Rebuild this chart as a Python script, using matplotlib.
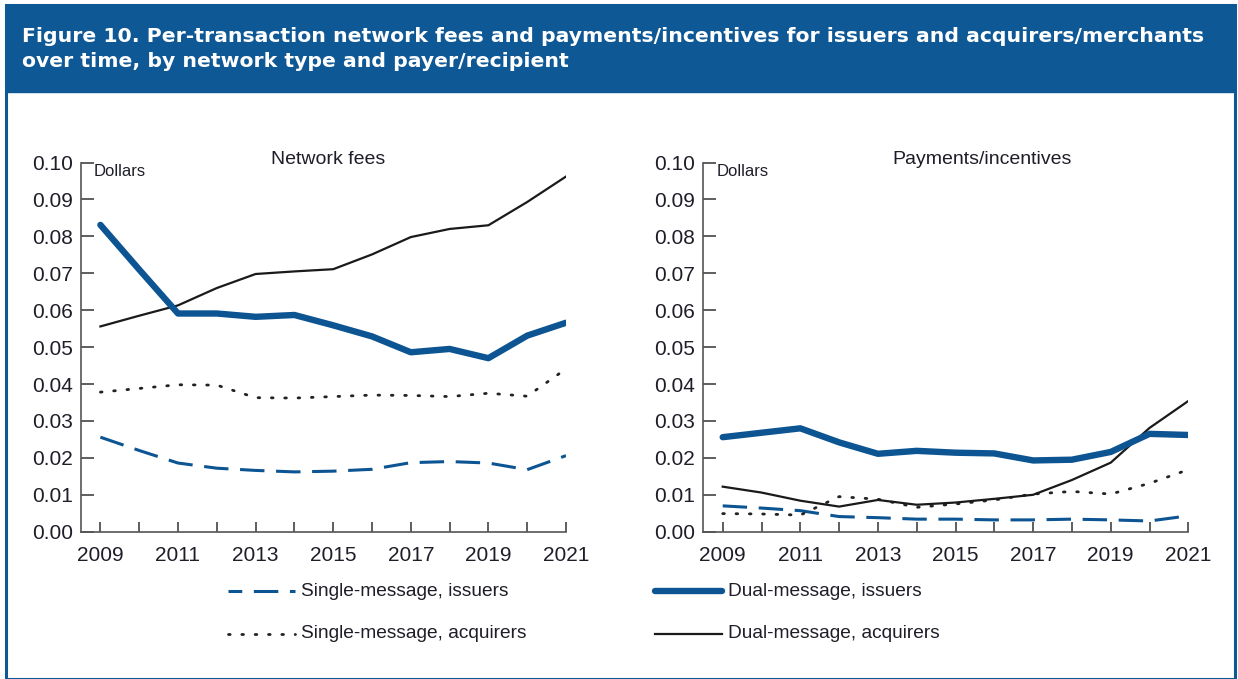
import matplotlib
matplotlib.use("Agg")
import matplotlib.pyplot as plt
from matplotlib.lines import Line2D
from matplotlib.patches import Rectangle

years = list(range(2009, 2022))
tick_years = [2009, 2011, 2013, 2015, 2017, 2019, 2021]
y_ticks = [0.00, 0.01, 0.02, 0.03, 0.04, 0.05, 0.06, 0.07, 0.08, 0.09, 0.10]

# Network fees (dollars per transaction)
fees_single_iss = [0.0256, 0.0220, 0.0186, 0.0172, 0.0166, 0.0162, 0.0164, 0.0169, 0.0187, 0.0190, 0.0186, 0.0168, 0.0206]
fees_single_acq = [0.0378, 0.0388, 0.0398, 0.0397, 0.0363, 0.0362, 0.0366, 0.0370, 0.0369, 0.0366, 0.0375, 0.0367, 0.0441]
fees_dual_iss = [0.0831, 0.0710, 0.0591, 0.0591, 0.0582, 0.0587, 0.0559, 0.0529, 0.0486, 0.0495, 0.0470, 0.0531, 0.0566]
fees_dual_acq = [0.0556, 0.0585, 0.0613, 0.0660, 0.0698, 0.0705, 0.0711, 0.0751, 0.0798, 0.0820, 0.0830, 0.0893, 0.0962]

# Payments/incentives (dollars per transaction)
inc_single_iss = [0.0070, 0.0064, 0.0057, 0.0041, 0.0038, 0.0034, 0.0034, 0.0032, 0.0032, 0.0034, 0.0032, 0.0029, 0.0043]
inc_single_acq = [0.0049, 0.0048, 0.0045, 0.0095, 0.0088, 0.0066, 0.0075, 0.0086, 0.0102, 0.0109, 0.0102, 0.0131, 0.0168]
inc_dual_iss = [0.0256, 0.0268, 0.0280, 0.0242, 0.0211, 0.0219, 0.0214, 0.0212, 0.0193, 0.0195, 0.0216, 0.0265, 0.0262]
inc_dual_acq = [0.0122, 0.0106, 0.0084, 0.0068, 0.0086, 0.0073, 0.0079, 0.0089, 0.0100, 0.0140, 0.0187, 0.0281, 0.0354]

labels = ["Single-message, issuers", "Single-message, acquirers",
          "Dual-message, issuers", "Dual-message, acquirers"]

BLUE = "#0c5492"
BAR = "#0f5896"
TXT = "#1e1e28"
REG = ["Liberation Sans", "DejaVu Sans"]

styles = [
    dict(color=BLUE, lw=2.2, ls=(0, (8, 3.8)), dash_capstyle="butt"),
    dict(color="#222222", lw=2.0, ls=(0, (0.6, 4.2)), dash_capstyle="round"),
    dict(color=BLUE, lw=4.6, ls="-", solid_capstyle="round", solid_joinstyle="round"),
    dict(color="#1a1a1a", lw=1.6, ls="-"),
]

W, H = 1238, 679
fig = plt.figure(figsize=(W / 100, H / 100), dpi=100)

# frame and title bar (behind the axes)
fig.add_artist(Rectangle((6 / W, 0), 1229 / W, 1 - 5 / H, transform=fig.transFigure,
                         facecolor="white", edgecolor=BAR, lw=2.2, zorder=-2))
fig.add_artist(Rectangle((6 / W, 1 - 92 / H), 1229 / W, 87 / H, transform=fig.transFigure,
                         facecolor=BAR, edgecolor=BAR, lw=1, zorder=-1))
fig.text(22 / W, 1 - 49 / H,
         "Figure 10. Per-transaction network fees and payments/incentives for issuers and acquirers/merchants\n"
         "over time, by network type and payer/recipient",
         color="white", fontsize=14.7, fontweight="bold", family="DejaVu Sans", va="center", ha="left",
         linespacing=1.42)


def panel(left, series, title, title_x):
    ax = fig.add_axes([left / W, 1 - 531.7 / H, 485 / W, (531.7 - 162.5) / H])
    ax.patch.set_alpha(0)
    order = [0, 1, 3, 2]
    for i in order:
        ax.plot(years, series[i], **styles[i], zorder=3)
    ax.set_xlim(2008.5, 2021)
    ax.set_ylim(0, 0.10)
    ax.set_yticks(y_ticks)
    ax.set_yticklabels(["%.2f" % v for v in y_ticks])
    ax.set_xticks(years)
    ax.set_xticklabels([str(y) if y in tick_years else "" for y in years])
    for s in ["top", "right"]:
        ax.spines[s].set_visible(False)
    for s in ["left", "bottom"]:
        ax.spines[s].set_color("#555555")
        ax.spines[s].set_linewidth(1.2)
    ax.tick_params(axis="y", direction="in", length=9, width=1.1, color="#333333",
                   labelsize=15, labelcolor=TXT, pad=6)
    ax.tick_params(axis="x", direction="in", length=7, width=1.1, color="#333333",
                   labelsize=15, labelcolor=TXT, pad=10)
    for lab in ax.get_xticklabels() + ax.get_yticklabels():
        lab.set_family(REG)
    ax.text(0.027, 0.995, "Dollars", transform=ax.transAxes, fontsize=12, family=REG,
            color=TXT, va="top", ha="left")
    ax.text(title_x, 1.008, title, transform=ax.transAxes, fontsize=14, family=REG,
            color=TXT, va="center", ha="center")
    return ax


panel(81, [fees_single_iss, fees_single_acq, fees_dual_iss, fees_dual_acq], "Network fees", 0.51)
panel(703.3, [inc_single_iss, inc_single_acq, inc_dual_iss, inc_dual_acq], "Payments/incentives", 0.575)

# legend below the panels
rows = [591, 634]
cols = [228, 655]
for i, lab in enumerate(labels):
    x0 = cols[i // 2]
    y = 1 - rows[i % 2] / H
    st = dict(styles[i])
    if i == 0:
        st["ls"] = (3.5, (8, 3.8))
    fig.add_artist(Line2D([x0 / W, (x0 + 67) / W], [y, y], transform=fig.transFigure, **st))
    fig.text((x0 + 73) / W, y, lab, fontsize=13.8, family=REG, color=TXT, va="center", ha="left")

fig.savefig("out.png", dpi=100)
